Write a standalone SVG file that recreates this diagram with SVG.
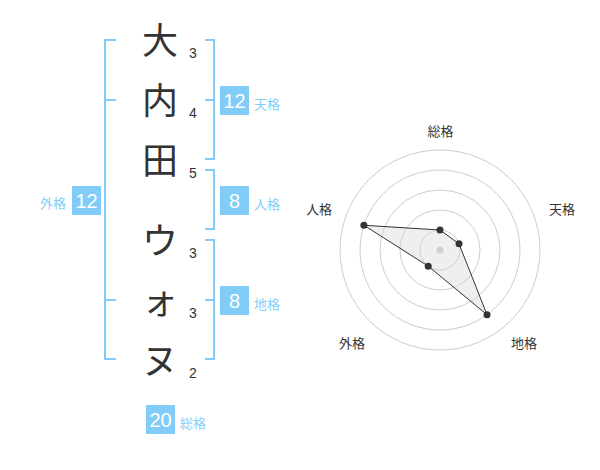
<svg xmlns="http://www.w3.org/2000/svg" width="600" height="470" viewBox="0 0 600 470">
<style>
.ch{font-family:"Noto Sans CJK JP","Noto Sans",sans-serif;font-size:36px;fill:#333;text-anchor:middle}
.num{font-family:"Liberation Sans",Arial,sans-serif;font-size:14px;fill:#333;text-anchor:middle}
.box{fill:#81cdf8}
.bt{font-family:"Liberation Sans",Arial,sans-serif;font-size:20px;fill:#fff;text-anchor:middle}
.lb{font-family:"Noto Sans CJK JP",sans-serif;font-size:13px;fill:#86cdf6}
.br{fill:none;stroke:#81cdf8;stroke-width:2}
.ring{fill:none;stroke:#cccccc;stroke-width:1}
.rl{font-family:"Noto Sans CJK JP",sans-serif;font-size:13px;fill:#333;text-anchor:middle}
.dot{fill:#333}
</style>
<rect width="600" height="470" fill="#fff"/>
<g id="connectors">
<path class="br" d="M116,40 H105 V359 H116 M105,100 H116 M105,300 H116"/>
<path class="br" d="M205,40 H214 V159 H205 M214,100 H205"/>
<path class="br" d="M205,170 H214 V229 H205"/>
<path class="br" d="M205,240 H214 V359 H205 M214,300 H205"/>
</g>
<g id="name">
<g id="c1"><text class="ch" x="160" y="54">大</text><text class="num" x="193" y="58">3</text></g>
<g id="c2"><text class="ch" x="160" y="114">内</text><text class="num" x="193" y="118">4</text></g>
<g id="c3"><text class="ch" x="160" y="174">田</text><text class="num" x="193" y="178">5</text></g>
<g id="c4"><text class="ch" x="160" y="254">ウ</text><text class="num" x="193" y="258">3</text></g>
<g id="c5"><text class="ch" x="160" y="314">ォ</text><text class="num" x="193" y="318">3</text></g>
<g id="c6"><text class="ch" x="160" y="374">ヌ</text><text class="num" x="193" y="378">2</text></g>
</g>
<g id="tenkaku"><rect class="box" x="220" y="86" width="29" height="29"/><text class="bt" x="234.5" y="107.5">12</text><text class="lb" x="254" y="109">天格</text></g>
<g id="jinkaku"><rect class="box" x="220" y="186" width="29" height="29"/><text class="bt" x="234.5" y="207.5">8</text><text class="lb" x="254" y="209">人格</text></g>
<g id="chikaku"><rect class="box" x="220" y="286" width="29" height="29"/><text class="bt" x="234.5" y="307.5">8</text><text class="lb" x="254" y="309">地格</text></g>
<g id="gaikaku"><rect class="box" x="72" y="186" width="29" height="29"/><text class="bt" x="86.5" y="207.5">12</text><text class="lb" x="66" y="208" text-anchor="end">外格</text></g>
<g id="soukaku"><rect class="box" x="146" y="405" width="29" height="29"/><text class="bt" x="160.5" y="426.5">20</text><text class="lb" x="180" y="428">総格</text></g>
<g id="radar">
<circle class="ring" cx="440" cy="250" r="20"/>
<circle class="ring" cx="440" cy="250" r="40"/>
<circle class="ring" cx="440" cy="250" r="60"/>
<circle class="ring" cx="440" cy="250" r="80"/>
<circle class="ring" cx="440" cy="250" r="100"/>
<circle cx="440" cy="250" r="3.5" fill="#cccccc"/>
<polygon points="440,230 459.02,243.82 487.02,314.72 428.24,266.18 363.91,225.28" fill="#d8d8d8" fill-opacity="0.4" stroke="#333" stroke-width="1"/>
<circle class="dot" cx="440" cy="230" r="3.5"/>
<circle class="dot" cx="459.02" cy="243.82" r="3.5"/>
<circle class="dot" cx="487.02" cy="314.72" r="3.5"/>
<circle class="dot" cx="428.24" cy="266.18" r="3.5"/>
<circle class="dot" cx="363.91" cy="225.28" r="3.5"/>
<text class="rl" x="440.5" y="136">総格</text>
<text class="rl" x="562" y="214">天格</text>
<text class="rl" x="524" y="348">地格</text>
<text class="rl" x="352" y="348">外格</text>
<text class="rl" x="319" y="214">人格</text>
</g>
</svg>
